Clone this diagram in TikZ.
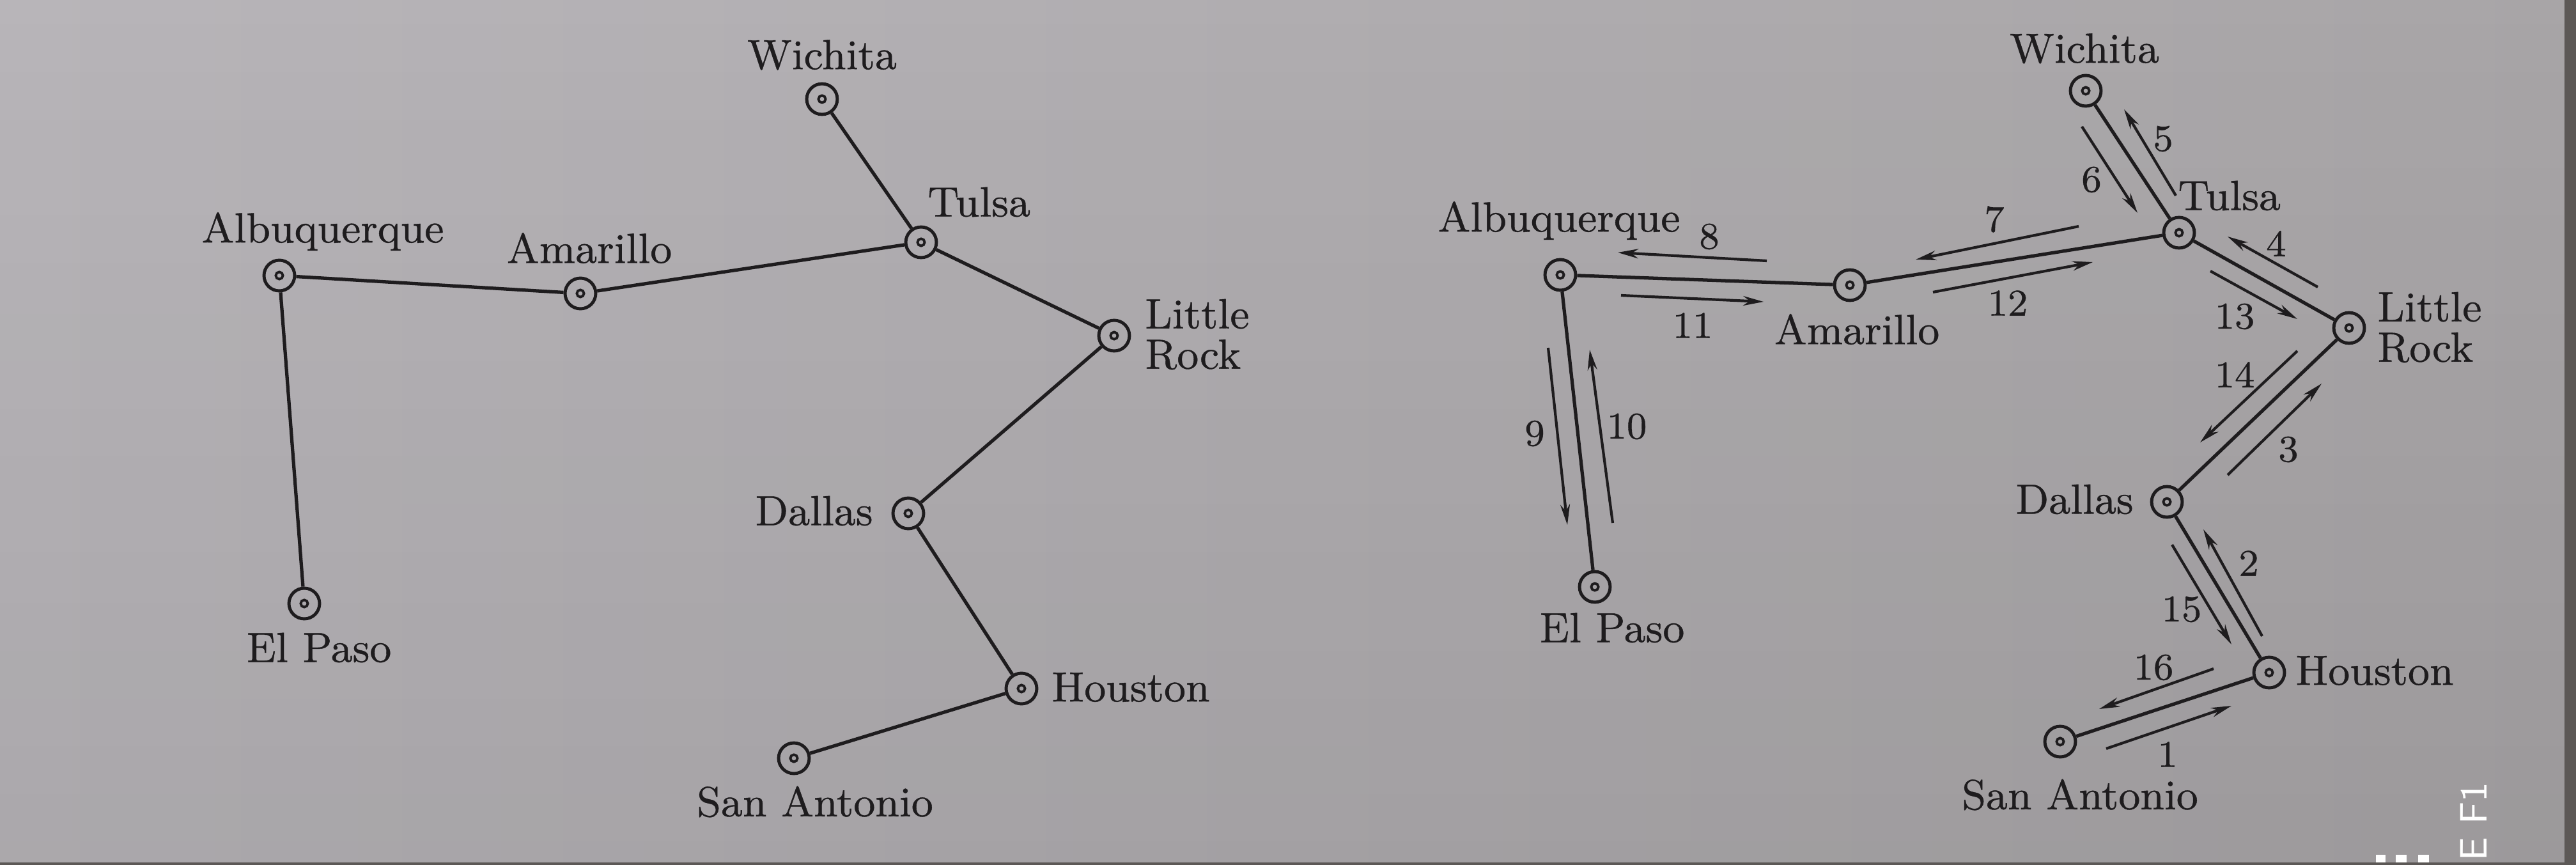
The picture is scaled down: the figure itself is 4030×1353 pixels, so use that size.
\documentclass[tikz,border=0pt]{standalone}
\usepackage{fontspec}
\setmainfont{Latin Modern Roman}[FakeBold=0.6]
\usetikzlibrary{arrows.meta,fadings}
\definecolor{ink}{RGB}{30,28,30}
\definecolor{paperL}{RGB}{184,181,185}
\definecolor{paperR}{RGB}{168,165,167}
\definecolor{edgedark}{RGB}{92,88,86}
\tikzset{
  city/.style={circle, draw=ink, line width=0.7pt, minimum size=0.24cm, inner sep=0pt,
    path picture={\draw[ink, line width=0.55pt] (path picture bounding box.center) circle (0.028cm);}},
  lbl/.style={text=ink, font=\fontsize{9.4}{9}\selectfont, inner sep=0pt},
  num/.style={text=ink, font=\fontsize{8.4}{9}\selectfont, inner sep=0pt},
  road/.style={draw=ink, line width=0.75pt},
  trip/.style={draw=ink, line width=0.6pt, -{Stealth[length=0.16cm, width=0.075cm]}},
  camtext/.style={text=white, font=\sffamily\fontsize{8.5}{9}\selectfont, inner sep=0pt},
}
\begin{document}
\begin{tikzpicture}[x=0.005cm, y=-0.005cm]
\useasboundingbox (0,0) rectangle (4030,1353);
\shade[left color=paperL, right color=paperR] (0,0) rectangle (4030,1353);
\fill[black, path fading=north, fill opacity=0.07] (0,0) rectangle (4030,1353);
\fill[edgedark] (4012,0) rectangle (4030,1353);
\fill[edgedark] (0,1349) rectangle (4030,1353);

% ---------- left graph ----------
\node[city] (lWi) at (1286,155) {};
\node[city] (lTu) at (1441,379) {};
\node[city] (lAl) at (437,431) {};
\node[city] (lAm) at (908,459) {};
\node[city] (lLR) at (1743,525) {};
\node[city] (lDa) at (1421,803) {};
\node[city] (lEP) at (476,944) {};
\node[city] (lHo) at (1598,1077) {};
\node[city] (lSA) at (1242,1186) {};

\node[lbl] (lWiT) at (1286,86) {Wichita};
\node[lbl, anchor=west] (lTuT) at (1450,316) {Tulsa};
\node[lbl] (lAlT) at (505,362) {Albuquerque};
\node[lbl] (lAmT) at (922,388) {Amarillo};
\node[lbl, anchor=west, align=left] (lLRT) at (1790,523) {Little\\Rock};
\node[lbl, anchor=east] (lDaT) at (1367,799) {Dallas};
\node[lbl] (lEPT) at (499,1013) {El Paso};
\node[lbl, anchor=west] (lHoT) at (1644,1075) {Houston};
\node[lbl] (lSAT) at (1275,1254) {San Antonio};

\draw[road] (lWi) -- (lTu);
\draw[road] (lAl) -- (lAm);
\draw[road] (lAm) -- (lTu);
\draw[road] (lTu) -- (lLR);
\draw[road] (lLR) -- (lDa);
\draw[road] (lDa) -- (lHo);
\draw[road] (lHo) -- (lSA);
\draw[road] (lAl) -- (lEP);

% ---------- right graph ----------
\node[city] (rWi) at (3263,142) {};
\node[city] (rTu) at (3409,364) {};
\node[city] (rAl) at (2441,430) {};
\node[city] (rAm) at (2894,446) {};
\node[city] (rLR) at (3675,513) {};
\node[city] (rDa) at (3390,785) {};
\node[city] (rEP) at (2495,918) {};
\node[city] (rHo) at (3550,1052) {};
\node[city] (rSA) at (3223,1160) {};

\node[lbl] (rWiT) at (3261,76) {Wichita};
\node[lbl, anchor=west] (rTuT) at (3406,306) {Tulsa};
\node[lbl] (rAlT) at (2439,345) {Albuquerque};
\node[lbl] (rAmT) at (2905,515) {Amarillo};
\node[lbl, anchor=west, align=left] (rLRT) at (3718,512) {Little\\Rock};
\node[lbl, anchor=east] (rDaT) at (3339,781) {Dallas};
\node[lbl] (rEPT) at (2522,982) {El Paso};
\node[lbl, anchor=west] (rHoT) at (3590,1049) {Houston};
\node[lbl] (rSAT) at (3254,1243) {San Antonio};

\draw[road] (rWi) -- (rTu);
\draw[road] (rAl) -- (rAm);
\draw[road] (rAm) -- (rTu);
\draw[road] (rTu) -- (rLR);
\draw[road] (rLR) -- (rDa);
\draw[road] (rDa) -- (rHo);
\draw[road] (rHo) -- (rSA);
\draw[road] (rAl) -- (rEP);

% trip arrows
\coordinate (s1) at (3295,1171);  \coordinate (e1) at (3491,1104);
\coordinate (s2) at (3539,995);   \coordinate (e2) at (3447,828);
\coordinate (s3) at (3485,743);   \coordinate (e3) at (3632,600);
\coordinate (s4) at (3626,449);   \coordinate (e4) at (3485,370);
\coordinate (s5) at (3404,306);   \coordinate (e5) at (3323,171);
\coordinate (s6) at (3257,198);   \coordinate (e6) at (3344,333);
\coordinate (s7) at (3252,354);   \coordinate (e7) at (2997,406);
\coordinate (s8) at (2764,408);   \coordinate (e8) at (2531,395);
\coordinate (s9) at (2422,544);   \coordinate (e9) at (2452,821);
\coordinate (s10) at (2523,818);  \coordinate (e10) at (2487,547);
\coordinate (s11) at (2536,462);  \coordinate (e11) at (2759,472);
\coordinate (s12) at (3024,457);  \coordinate (e12) at (3274,410);
\coordinate (s13) at (3458,424);  \coordinate (e13) at (3594,499);
\coordinate (s14) at (3594,549);  \coordinate (e14) at (3442,692);
\coordinate (s15) at (3398,852);  \coordinate (e15) at (3491,1008);
\coordinate (s16) at (3463,1046); \coordinate (e16) at (3284,1109);

\foreach \i in {1,...,16} { \draw[trip] (s\i) -- (e\i); }

\node[num] (n1) at (3391,1180) {1};
\node[num] (n2) at (3518,881) {2};
\node[num] (n3) at (3580,703) {3};
\node[num] (n4) at (3561,381) {4};
\node[num] (n5) at (3384,217) {5};
\node[num] (n6) at (3272,281) {6};
\node[num] (n7) at (3120,343) {7};
\node[num] (n8) at (2674,370) {8};
\node[num] (n9) at (2401,678) {9};
\node[num] (n10) at (2545,667) {10};
\node[num] (n11) at (2648,509) {11};
\node[num] (n12) at (3141,474) {12};
\node[num] (n13) at (3496,495) {13};
\node[num] (n14) at (3496,586) {14};
\node[num] (n15) at (3413,953) {15};
\node[num] (n16) at (3369,1044) {16};

% camera overlay marks
\node[camtext, rotate=90] (cam) at (3870,1285) {E F1};
\fill[white] (3717,1337) rectangle (3732,1349);
\fill[white] (3748,1337) rectangle (3765,1349);
\fill[white] (3783,1337) rectangle (3800,1349);
\end{tikzpicture}
\end{document}
